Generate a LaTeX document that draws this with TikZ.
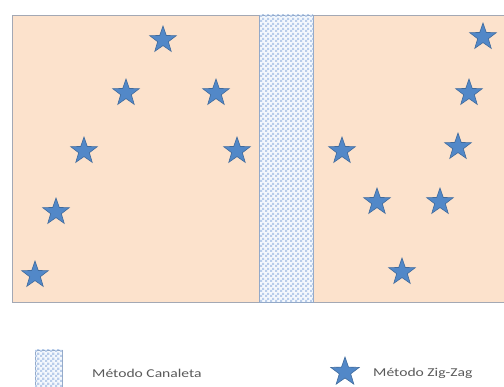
\documentclass[tikz,border=0pt]{standalone}
\usepackage{fontspec}
\setmainfont{Carlito}
\usetikzlibrary{shapes.geometric,patterns.meta}
\definecolor{peach}{HTML}{FCE2CC}
\definecolor{frame}{HTML}{A3A8B4}
\definecolor{starblue}{HTML}{5288C8}
\definecolor{stardark}{HTML}{3F6A9C}
\definecolor{chanfill}{HTML}{F4F8FD}
\definecolor{chanpat}{HTML}{B9CDEA}
\definecolor{chanline}{HTML}{93A9C8}
\pgfdeclarepattern{
  name=checkerpat,
  parameters={},
  bottom left={\pgfpoint{0pt}{0pt}},
  top right={\pgfpoint{5pt}{5pt}},
  tile size={\pgfpoint{5pt}{5pt}},
  tile transformation={},
  type=uncolored,
  code={
    \pgfpathrectangle{\pgfpoint{0pt}{0pt}}{\pgfpoint{2.5pt}{2.5pt}}
    \pgfpathrectangle{\pgfpoint{2.5pt}{2.5pt}}{\pgfpoint{2.5pt}{2.5pt}}
    \pgfusepath{fill}
  }
}
\tikzset{
  zz/.style={star, star points=5, star point ratio=2.5, minimum size=28pt, inner sep=0pt,
    fill=starblue, draw=stardark, line width=0.6pt},
  chan/.style={fill=chanfill, postaction={pattern=checkerpat, pattern color=chanpat}, draw=chanline, line width=0.8pt},
  lbl/.style={font=\fontsize{12}{14}\selectfont, text=black!65, anchor=west, inner sep=0pt}
}
\begin{document}
\begin{tikzpicture}[x=1pt,y=-1pt]
\useasboundingbox (0,0) rectangle (504,387);
\begin{scope}
\clip (0,0) rectangle (504,387);
\draw[fill=peach, draw=frame, line width=0.8pt] (12,15) rectangle (520,302);
\draw[chan] (259.5,15) rectangle (313,302);
\foreach \n/\x/\y in {1/35/275,2/56/212,3/84/151,4/126/93,5/163/40,6/216/93,7/237/151,
  8/342/151,9/377/202,10/402/272,11/440/202,12/458/147,13/469/93,14/483/37}
  \node[zz] (s\n) at (\x,\y) {};
\draw[chan, line width=0.5pt] (35,350) rectangle (62,392);
\end{scope}
\node[lbl] (t1) at (92,373) {\scalebox{1.3}[1]{Método Canaleta}};
\node[zz, minimum size=30pt] (ls) at (345,372) {};
\node[lbl] (t2) at (373,373) {\scalebox{1.3}[1]{Método Zig-Zag}};
\end{tikzpicture}
\end{document}
